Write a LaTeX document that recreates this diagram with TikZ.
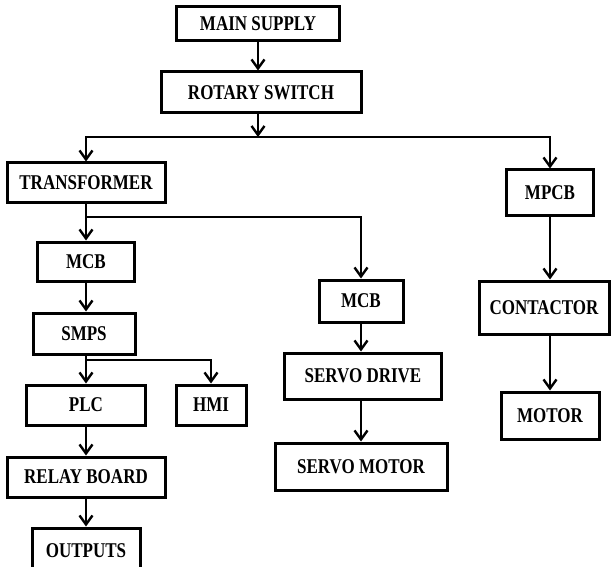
\documentclass[tikz,border=0pt]{standalone}
\usepackage{fontspec}
\setmainfont{Liberation Serif}[FakeStretch=0.81]
\usetikzlibrary{arrows.meta,positioning}
\tikzset{>={Straight Barb[length=9pt,width=13pt]}}
\tikzset{blk/.style={draw, line width=3pt, inner sep=0pt,
    font=\fontsize{21}{22}\selectfont\bfseries}}
\tikzset{wire/.style={line width=2.4pt}}

\begin{document}
\begin{tikzpicture}[x=1pt,y=-1pt]
  \useasboundingbox (0,0) rectangle (611,567);
  % supply side
  \node[blk, minimum width=163pt, minimum height=34pt] (ms) at (258,24) {MAIN SUPPLY};
  \node[blk, minimum width=200pt, minimum height=41pt] (rs) at (261,92.5) {ROTARY SWITCH};
  \node[blk, minimum width=158pt, minimum height=40pt] (tr) at (86,183) {TRANSFORMER};
  \node[blk, minimum width=87pt, minimum height=46pt] (mpcb) at (550,193) {MPCB};
  % control branch
  \node[blk, minimum width=97pt, minimum height=39pt] (mcba) at (86,261.5) {MCB};
  \node[blk, minimum width=102pt, minimum height=41pt] (smps) at (84,333.5) {SMPS};
  \node[blk, minimum width=119pt, minimum height=40pt] (plc) at (86,405) {PLC};
  \node[blk, minimum width=70pt, minimum height=40pt] (hmi) at (211,405) {HMI};
  \node[blk, minimum width=158pt, minimum height=40pt] (rb) at (86,477) {RELAY BOARD};
  \node[blk, minimum width=108pt, minimum height=46pt] (out) at (86,551) {OUTPUTS};
  % servo branch
  \node[blk, minimum width=84pt, minimum height=42pt] (mcbb) at (361,301) {MCB};
  \node[blk, minimum width=157pt, minimum height=46pt] (sd) at (363,376) {SERVO DRIVE};
  \node[blk, minimum width=172pt, minimum height=47pt] (sm) at (361,466.5) {SERVO MOTOR};
  % motor branch
  \node[blk, minimum width=130pt, minimum height=53pt] (con) at (544,307.5) {CONTACTOR};
  \node[blk, minimum width=98pt, minimum height=47pt] (mot) at (550,415.5) {MOTOR};

  \coordinate (b1) at (258,137);
  \coordinate (b2) at (86,217);
  \coordinate (b3) at (86,360);

  \draw[wire,->] (ms.south) -- (ms.south |- rs.north);
  \draw[wire,->] (b1 |- rs.south) -- (b1);
  \draw[wire,->] (b1) -| (tr.north);
  \draw[wire,->] (b1) -| (mpcb.north);
  \draw[wire,->] (tr.south) -- (mcba.north);
  \draw[wire,->] (b2) -| (mcbb.north);
  \draw[wire,->] (mcba.south) -- (mcba.south |- smps.north);
  \draw[wire,->] (b3 |- smps.south) -- (plc.north);
  \draw[wire,->] (b3) -| (hmi.north);
  \draw[wire,->] (plc.south) -- (rb.north);
  \draw[wire,->] (rb.south) -- (out.north);
  \draw[wire,->] (mcbb.south) -- (mcbb.south |- sd.north);
  \draw[wire,->] (mcbb.south |- sd.south) -- (sm.north);
  \draw[wire,->] (mpcb.south) -- (mpcb.south |- con.north);
  \draw[wire,->] (mpcb.south |- con.south) -- (mot.north);
\end{tikzpicture}
\end{document}
